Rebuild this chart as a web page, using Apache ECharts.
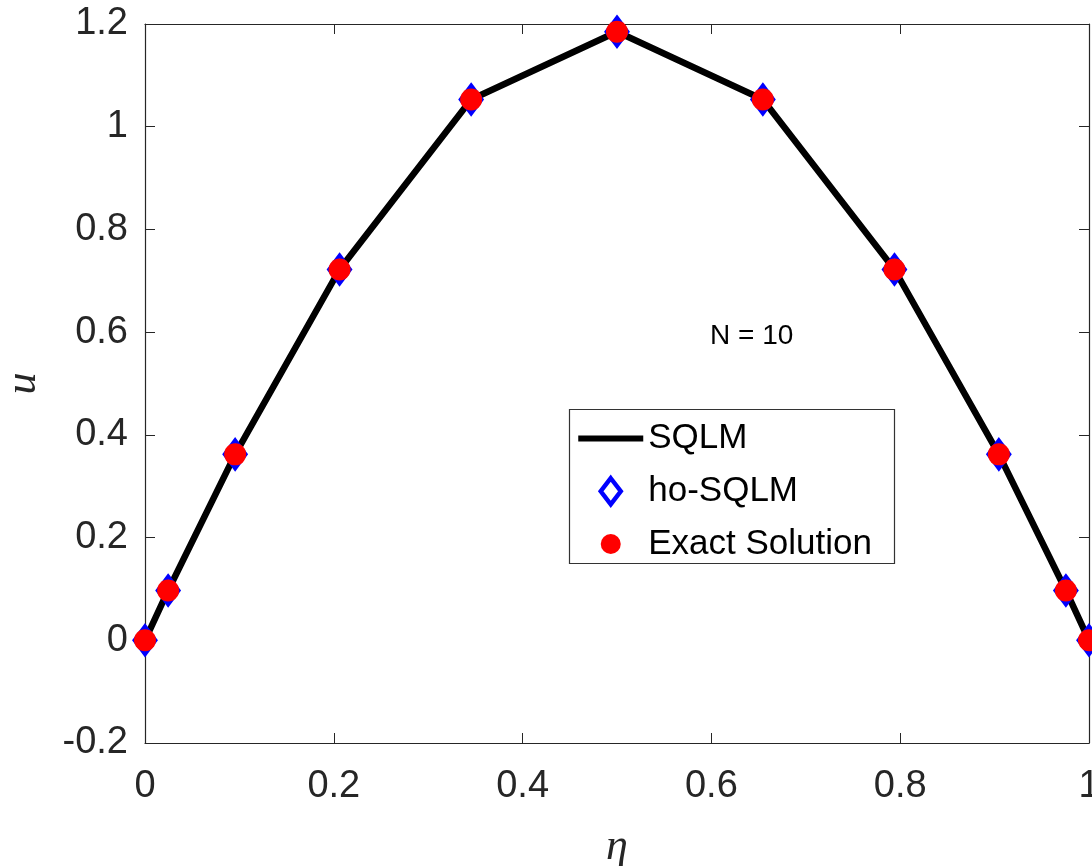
<!DOCTYPE html>
<html>
<head>
<meta charset="utf-8">
<script src="https://cdn.jsdelivr.net/npm/echarts@6/dist/echarts.min.js"></script>
<style>
html,body{margin:0;padding:0;background:#fff;}
#chart{width:1092px;height:866px;}
</style>
</head>
<body>
<div id="chart"></div>
<script>
// Collocation points (eta) and solution values
const eta      = [0, 0.0245, 0.0955, 0.2061, 0.3455, 0.5, 0.6545, 0.7939, 0.9045, 0.9755, 1];
const sqlmU    = [0, 0.097, 0.362, 0.722, 1.053, 1.185, 1.053, 0.722, 0.362, 0.097, 0];
const hoSqlmU  = [0, 0.097, 0.362, 0.722, 1.053, 1.185, 1.053, 0.722, 0.362, 0.097, 0];
const exactU   = [0, 0.097, 0.362, 0.722, 1.053, 1.185, 1.053, 0.722, 0.362, 0.097, 0];
const seriesNames = ['SQLM', 'ho-SQLM', 'Exact Solution'];
const annotation = 'N = 10';
const xLabel = 'η';
const yLabel = 'u';

const pairs = (xs, ys) => xs.map((x, i) => [x, ys[i]]);
const axisColor = '#262626';
const sansFont = '"Liberation Sans", Arial, Helvetica, sans-serif';
const serifFont = '"Liberation Serif", "Times New Roman", serif';

// legend icons: each path spans the full 65x32 icon box (via move-to corners)
const iconLine    = 'path://M0,0M65,32M0,13L65,13L65,19L0,19Z';
const iconDiamond = 'path://M0,0M65,32M32.5,3L42.5,16L32.5,29L22.5,16Z';
const iconCircle  = 'path://M0,0M65,32M22.5,16A10,10 0 1,1 42.5,16A10,10 0 1,1 22.5,16Z';

const chart = echarts.init(document.getElementById('chart'), null, {renderer: 'canvas'});

const tickCommon = {show: true, inside: true, length: 10, lineStyle: {color: axisColor, width: 1}};
const lineCommon = {show: true, onZero: false, lineStyle: {color: axisColor, width: 1.2}};

chart.setOption({
  backgroundColor: '#fff',
  animation: false,
  grid: {left: 145, right: 3, top: 24, bottom: 123, containLabel: false, outerBoundsMode: 'none'},
  xAxis: [{
    type: 'value', min: 0, max: 1, interval: 0.2, position: 'bottom',
    name: xLabel, nameLocation: 'middle', nameGap: 82,
    nameTextStyle: {fontFamily: serifFont, fontStyle: 'italic', fontSize: 44, color: axisColor},
    axisLine: lineCommon, axisTick: tickCommon,
    axisLabel: {margin: 25, fontFamily: sansFont, fontSize: 38, color: axisColor},
    splitLine: {show: false}
  }, {
    type: 'value', min: 0, max: 1, interval: 0.2, position: 'top',
    axisLine: lineCommon, axisTick: tickCommon,
    axisLabel: {show: false}, splitLine: {show: false}
  }],
  yAxis: [{
    type: 'value', min: -0.2, max: 1.2, interval: 0.2, position: 'left',
    name: yLabel, nameLocation: 'middle', nameGap: 100,
    nameTextStyle: {fontFamily: serifFont, fontStyle: 'italic', fontSize: 44, color: axisColor},
    axisLine: lineCommon, axisTick: tickCommon,
    axisLabel: {margin: 17, fontFamily: sansFont, fontSize: 38, color: axisColor},
    splitLine: {show: false}
  }, {
    type: 'value', min: -0.2, max: 1.2, interval: 0.2, position: 'right',
    axisLine: lineCommon, axisTick: tickCommon,
    axisLabel: {show: false}, splitLine: {show: false}
  }],
  legend: {
    orient: 'vertical',
    left: 576,
    top: 421,
    itemWidth: 65,
    itemHeight: 32,
    itemGap: 17,
    padding: 0,
    symbolKeepAspect: false,
    selectedMode: false,
    textStyle: {fontFamily: sansFont, fontSize: 35, color: '#000'},
    data: [
      {name: seriesNames[0], icon: iconLine, itemStyle: {color: '#000', borderWidth: 0}},
      {name: seriesNames[1], icon: iconDiamond, itemStyle: {color: '#fff', borderColor: '#0000ff', borderWidth: 4.5}},
      {name: seriesNames[2], icon: iconCircle, itemStyle: {color: '#ff0000', borderWidth: 0}}
    ]
  },
  graphic: [
    {type: 'rect', left: 567, top: 407, shape: {width: 325, height: 154},
     style: {fill: 'none', stroke: '#333', lineWidth: 1.2}, z: 100},
    {type: 'text', left: 710, top: 322,
     style: {text: annotation, fontFamily: sansFont, fontSize: 28, fill: '#000'}, z: 100}
  ],
  series: [{
    name: seriesNames[0], type: 'line', data: pairs(eta, sqlmU),
    showSymbol: false, symbol: 'none',
    lineStyle: {color: '#000', width: 6.5}, itemStyle: {color: '#000'}, z: 2
  }, {
    name: seriesNames[1], type: 'scatter', data: pairs(eta, hoSqlmU),
    symbol: 'diamond', symbolSize: [21, 28],
    itemStyle: {color: '#fff', borderColor: '#0000ff', borderWidth: 4, opacity: 1}, z: 3
  }, {
    name: seriesNames[2], type: 'scatter', data: pairs(eta, exactU),
    symbol: 'circle', symbolSize: 22,
    itemStyle: {color: '#ff0000', opacity: 1}, z: 4
  }]
});
</script>
</body>
</html>
